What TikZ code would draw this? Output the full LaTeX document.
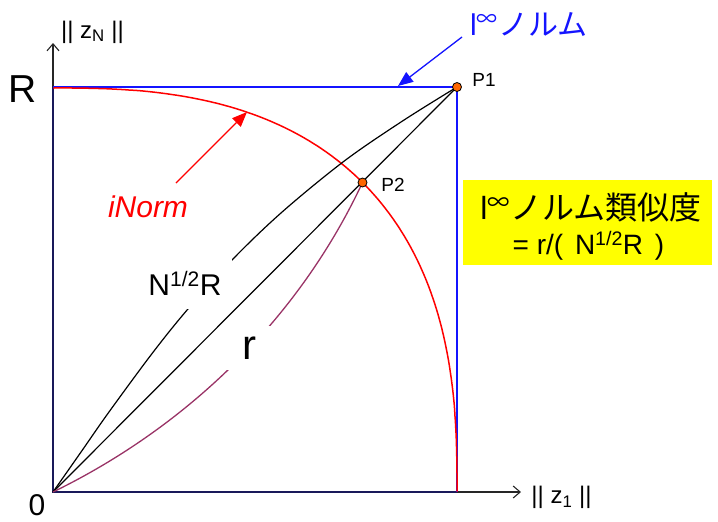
\documentclass[tikz,border=0pt]{standalone}
\usepackage{fontspec}
\setmainfont{Liberation Sans}
\newfontfamily\jp{Noto Sans CJK JP}
\usetikzlibrary{arrows.meta}
\definecolor{lblue}{RGB}{20,20,255}
\definecolor{lred}{RGB}{255,0,0}
\definecolor{lpurple}{RGB}{153,51,102}
\definecolor{lorange}{RGB}{255,102,0}
\definecolor{lnavy}{RGB}{25,25,90}
\definecolor{lyellow}{RGB}{255,255,0}
\newcommand{\fs}[1]{\fontsize{#1}{#1}\selectfont}
\tikzset{
  axisline/.style={line width=1.1pt, draw=black!85, -{Straight Barb[length=7pt,width=12pt,line width=1.1pt]}},
  bluel/.style={line width=1.8pt, draw=lblue},
  redl/.style={line width=1.5pt, draw=lred},
  blackl/.style={line width=1.2pt, draw=black},
  purpl/.style={line width=1.3pt, draw=lpurple},
  callout/.style={line width=1.3pt, -{Triangle[length=15pt,width=12pt]}},
  ptdot/.style={circle, fill=lorange, draw=black, line width=0.8pt, minimum size=9pt, inner sep=0pt},
  mask/.style={fill=white, inner sep=0pt},
  lbl/.style={inner sep=0pt, text=black}
}
\begin{document}
\begin{tikzpicture}[x=1pt,y=-1pt]
\useasboundingbox (0,0) rectangle (718,522);

\coordinate (O) at (53,492);
\coordinate (P1c) at (457,87);
\coordinate (P2c) at (362.5,182.5);
\coordinate (Rtop) at (53,87);
\coordinate (Xend) at (457,492);
\coordinate (Ytip) at (53,43);
\coordinate (Xtip) at (521,492);

% axes
\draw[axisline] (O) -- (Ytip);
\draw[axisline] (O) -- (Xtip);
\draw[line width=1.1pt, draw=lnavy] (Rtop) -- (O) -- (Xend);

% l-infinity square
\draw[bluel] (Rtop) -- (P1c) -- (Xend);

% iNorm curve
\draw[redl] plot[domain=0:90, samples=181, variable=\x]
  ({53+404*pow(max(cos(\x),0.0001),0.76923)}, {492-404*pow(max(sin(\x),0.0001),0.76923)});

% straight diagonal
\draw[blackl] (O) -- (P1c);
% N^{1/2}R curve
\draw[blackl] plot[smooth, tension=0.55] coordinates {(53,492) (82.7,449.6) (108.9,412.1) (152.7,352.7) (188.1,308.8) (232.3,259.7) (282.1,212) (344.3,161) (403,120.7) (457,87)};
% r curve
\draw[purpl] (O) .. controls (187.8,426.3) and (299,318.4) .. (P2c);

% labels breaking the curves
\node[mask, lbl, minimum width=93pt, minimum height=52pt] (nlabel) at (185,283) {\fs{30}N\textsuperscript{1/2}R};
\node[mask, lbl, minimum width=46pt, minimum height=44pt] (rlabel) at (249,348) {\fs{42}r};

% points
\node[ptdot] (P1) at (P1c) {};
\node[ptdot] (P2) at (P2c) {};
\node[lbl] (P1t) at (484,80) {\fs{19}P1};
\node[lbl] (P2t) at (393,185) {\fs{19}P2};

% callouts
\coordinate (bstart) at (462,37);
\coordinate (bend) at (398,86);
\draw[callout, draw=lblue, fill=lblue] (bstart) -- (bend);
\node[lbl, text=lblue] (linf) at (529,25) {\fs{30}l\textsuperscript{\jp ∞}\jp ノルム};

\coordinate (rstart) at (176,183);
\coordinate (rend) at (247,112);
\draw[callout, draw=lred, fill=lred] (rstart) -- (rend);
\node[lbl, text=lred] (inorm) at (148,207) {\fs{30}\itshape iNorm};

% axis labels
\node[lbl] (Rl) at (22.5,89) {\fs{39}R};
\node[lbl] (Zl) at (37,505) {\fs{30}0};
\node[lbl] (zN) at (92.5,32) {\fs{24}|| z\textsubscript{N} ||};
\node[lbl] (z1) at (561.5,497.5) {\fs{24}|| z\textsubscript{1} ||};

% yellow box
\node[fill=lyellow, minimum width=249pt, minimum height=85pt, inner sep=0pt] (ybox) at (587.5,222.5) {};
\node[lbl] (y1) at (591,207) {\fs{32}l\textsuperscript{\jp ∞}\jp ノルム類似度};
\node[lbl] (y2) at (588.5,246) {\fs{28}= r/(\hspace{4pt} N\textsuperscript{1/2}R\hspace{4pt} )};
\end{tikzpicture}
\end{document}
